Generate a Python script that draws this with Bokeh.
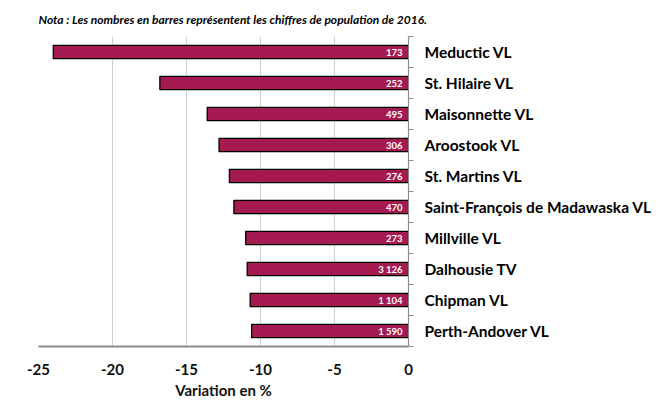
from bokeh.plotting import figure
from bokeh.models import Range1d, FixedTicker, ColumnDataSource, Title, PrintfTickFormatter
from bokeh.core.properties import value
from bokeh.embed import file_html
from bokeh.resources import INLINE

places = ["Meductic VL", "St. Hilaire VL", "Maisonnette VL", "Aroostook VL", "St. Martins VL",
          "Saint-François de Madawaska VL", "Millville VL", "Dalhousie TV", "Chipman VL", "Perth-Andover VL"]
variation = [-24.0, -16.8, -13.6, -12.8, -12.1, -11.8, -11.0, -10.9, -10.7, -10.6]
population = ["173", "252", "495", "306", "276", "470", "273", "3 126", "1 104", "1 590"]
x_ticks = [-25, -20, -15, -10, -5, 0]

n = len(places)
ypos = [n - i - 0.5 for i in range(n)]
src = ColumnDataSource(dict(y=ypos, v=variation, pop=population, zero=[0] * n))

FONT = "Lato"

p = figure(width=660, height=401, output_backend="svg", toolbar_location=None,
           x_range=Range1d(-25, 0), y_range=Range1d(0, n), y_axis_location="right",
           min_border_left=38, min_border_right=252, min_border_top=36, min_border_bottom=52)
p.outline_line_color = None

p.add_layout(Title(text="Nota : Les nombres en barres représentent les chiffres de population  de 2016.",
                   text_font=FONT, text_font_size="12px", text_font_style="bold italic",
                   text_color="#000000", align="left", standoff=19), "above")

p.hbar(y="y", left="v", right="zero", height=0.43, source=src,
       fill_color="#A51A51", line_color="#000000", line_width=1.3)
p.text(x="zero", y="y", text="pop", source=src, x_offset=-6, text_align="right",
       text_baseline="middle", text_color="white", text_font=value(FONT),
       text_font_size="9.5px", text_font_style="bold")

xa = p.xaxis[0]
xa.ticker = FixedTicker(ticks=x_ticks)
xa.formatter = PrintfTickFormatter(format="%d")
xa.major_tick_line_color = None
xa.minor_tick_line_color = None
xa.axis_line_color = "#8C8C8C"
xa.axis_line_width = 2
xa.major_label_text_font = FONT
xa.major_label_text_font_size = "15px"
xa.major_label_text_font_style = "bold"
xa.major_label_text_color = "#111111"
xa.major_label_standoff = 11
xa.axis_label = "Variation en %"
xa.axis_label_text_font = FONT
xa.axis_label_text_font_size = "15px"
xa.axis_label_text_font_style = "bold"
xa.axis_label_text_color = "#111111"
xa.axis_label_standoff = 3

ya = p.yaxis[0]
ya.ticker = FixedTicker(ticks=ypos, minor_ticks=list(range(n + 1)))
ya.major_label_overrides = {y: name for y, name in zip(ypos, places)}
ya.major_tick_line_color = None
ya.minor_tick_line_color = "#8C8C8C"
ya.minor_tick_out = 5
ya.minor_tick_in = 0
ya.axis_line_color = "#8C8C8C"
ya.axis_line_width = 1.2
ya.major_label_text_font = FONT
ya.major_label_text_font_size = "15.5px"
ya.major_label_text_font_style = "bold"
ya.major_label_text_color = "#000000"
ya.major_label_standoff = 10

p.xgrid.grid_line_color = "#D0D0D0"
p.xgrid.ticker = FixedTicker(ticks=x_ticks)
p.ygrid.grid_line_color = None

open("out.html", "w").write(file_html(p, INLINE))
